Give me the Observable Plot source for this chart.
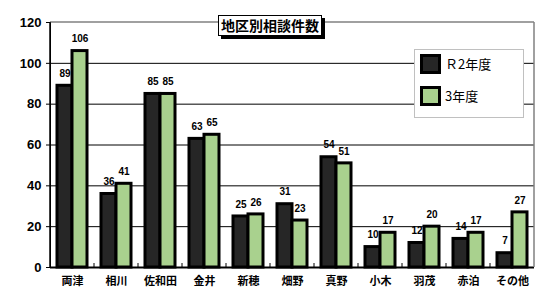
<!DOCTYPE html>
<html><head><meta charset="utf-8">
<script src="https://cdn.jsdelivr.net/npm/d3@7"></script>
<script src="https://cdn.jsdelivr.net/npm/@observablehq/plot@0.6"></script>
<style>
body{margin:0;background:#fff;}
#wrap{position:relative;width:551px;height:296px;overflow:hidden;}
#wrap svg{position:absolute;left:0;top:0;}
#title{position:absolute;left:218px;top:15px;width:102px;height:19px;border:1.5px solid #000;background:#fff;box-shadow:3px 3px 0 #000;font:bold 14px "Noto Sans CJK JP",sans-serif;text-align:center;line-height:19px;color:#000;}
#legend{position:absolute;left:414px;top:49px;width:108px;height:67px;border:1px solid #c0c0c0;background:#fff;font:13px "Noto Sans CJK JP","Liberation Sans",sans-serif;color:#000;}
.sw{position:absolute;left:5px;width:15px;height:14px;border:3px solid #000;}
.lt{position:absolute;left:30px;line-height:16px;}
</style></head>
<body><div id="wrap"></div>
<script>
const categories = ["両津","相川","佐和田","金井","新穂","畑野","真野","小木","羽茂","赤泊","その他"];
const series = ["Ｒ2年度","3年度"];
const valuesR2 = [89,36,85,63,25,31,54,10,12,14,7];
const valuesR3 = [106,41,85,65,26,23,51,17,20,17,27];
const yTicks = [0,20,40,60,80,100,120];
const colors = ["#262626","#a9d18e"];
const titleText = "地区別相談件数";

const data = [];
categories.forEach((c,i)=>{
  data.push({cat:c, series:series[0], value:valuesR2[i]});
  data.push({cat:c, series:series[1], value:valuesR3[i]});
});

const chart = Plot.plot({
  width:551, height:296,
  marginLeft:48, marginRight:15, marginTop:22, marginBottom:29,
  style:{fontFamily:'"Liberation Sans","Noto Sans CJK JP",sans-serif', fontSize:"12px", fontWeight:"bold", color:"#000", background:"#fff"},
  fx:{domain:categories, padding:0, label:null, axis:"bottom", tickSize:0, tickPadding:10},
  x:{domain:series, axis:null, paddingInner:0, paddingOuter:0.38},
  y:{domain:[0,120], ticks:yTicks, label:null, tickSize:4, tickPadding:5, line:true},
  color:{domain:series, range:colors},
  marks:[
    Plot.gridY(yTicks.filter(t=>t>0 && t<120), {stroke:"#000", strokeOpacity:1, strokeWidth:1}),
    Plot.barY(data,{fx:"cat", x:"series", y:"value", fill:"series", stroke:"#000", strokeWidth:3}),
    Plot.text(data,{fx:"cat", x:"series", y:"value", text:"value", dy:-12, fontSize:10, fontWeight:"bold", fill:"#000"}),
    Plot.ruleY([0],{stroke:"#000", strokeWidth:2})
  ]
});

const wrap = document.getElementById("wrap");
wrap.appendChild(chart);

const svg = d3.select(chart);
// axis label fonts
svg.selectAll('[aria-label="fx-axis tick label"] text').style("font-size","11px").style("font-family",'"Noto Sans CJK JP",sans-serif');
svg.selectAll('[aria-label="y-axis tick label"] text').style("font-family",'"Liberation Sans Narrow","Liberation Sans",sans-serif').style("font-size","13px");

// frame lines and category boundary ticks through the scales
const ys = chart.scale("y"), fxs = chart.scale("fx");
const x0 = fxs.apply(categories[0]);
const x1 = fxs.apply(categories[categories.length-1]) + fxs.bandwidth;
const yTop = ys.apply(120), yBot = ys.apply(0);
const g = svg.append("g");
g.append("line").attr("x1",x0).attr("x2",x1).attr("y1",yTop).attr("y2",yTop).attr("stroke","#808080").attr("stroke-width",1.5);
g.append("line").attr("x1",x1).attr("x2",x1).attr("y1",yTop).attr("y2",yBot).attr("stroke","#808080").attr("stroke-width",1.5);
g.append("line").attr("x1",x0).attr("x2",x0).attr("y1",yTop).attr("y2",yBot).attr("stroke","#000").attr("stroke-width",1.5);
categories.forEach((c,i)=>{
  if(i===0) return;
  const bx = fxs.apply(c);
  g.append("line").attr("x1",bx).attr("x2",bx).attr("y1",yBot-4).attr("y2",yBot).attr("stroke","#000").attr("stroke-width",1);
});

// title
const t = document.createElement("div");
t.id = "title"; t.textContent = titleText; wrap.appendChild(t);

// legend
const lg = document.createElement("div");
lg.id = "legend";
series.forEach((s,i)=>{
  const sw = document.createElement("div");
  sw.className = "sw"; sw.style.top = (4 + i*32) + "px"; sw.style.background = colors[i];
  lg.appendChild(sw);
  const lt = document.createElement("div");
  lt.className = "lt"; lt.style.top = (6 + i*32) + "px"; lt.textContent = s;
  lg.appendChild(lt);
});
wrap.appendChild(lg);
</script></body></html>
